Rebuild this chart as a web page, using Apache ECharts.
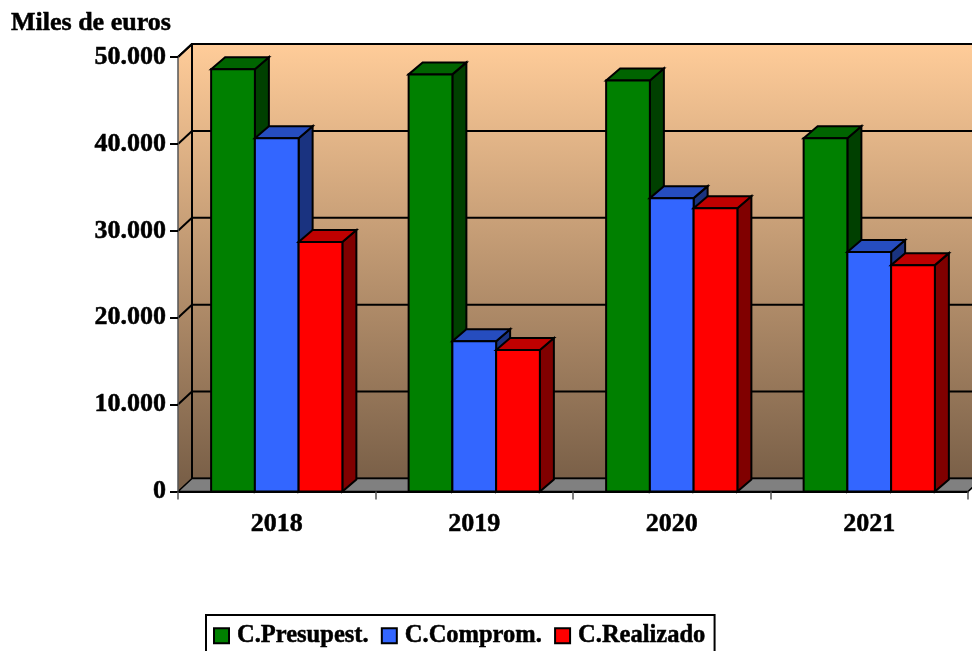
<!DOCTYPE html>
<html>
<head>
<meta charset="utf-8">
<style>html,body{margin:0;padding:0;background:#fff}#c{width:972px;height:651px}</style>
<script src="https://cdn.jsdelivr.net/npm/echarts@6/dist/echarts.min.js"></script>
</head>
<body>
<div id="c"></div>
<script>
var unitTitle = 'Miles de euros';
var categories = ['2018', '2019', '2020', '2021'];
var yTicks = [10000, 20000, 30000, 40000, 50000];
var seriesNames = ['C.Presupest.', 'C.Comprom.', 'C.Realizado'];
var presupuestado = [48600, 48000, 47300, 40660];
var comprometido = [40660, 17300, 33760, 27550];
var realizado = [28700, 16270, 32600, 26050];

var FONT = '"Liberation Serif","Times New Roman",serif';
var WALL = { dx: 14, dy: -13 };
var BAR = { dx: 14, dy: -12, ratio: 0.2215 };
var faces = [
  { front: '#008000', side: '#004000', top: '#006400' },
  { front: '#3366FF', side: '#1A3380', top: '#264DBF' },
  { front: '#FF0000', side: '#800000', top: '#BF0000' }
];
var edge = { stroke: '#000', lineWidth: 2, lineJoin: 'miter' };

function poly(points, fill, stroke) {
  return { type: 'polygon', shape: { points: points },
    style: Object.assign({ fill: fill }, stroke || edge) };
}

function renderWalls(params) {
  var g = params.coordSys;
  var top = g.y, bot = g.y + g.height, l = g.x, r = g.x + g.width;
  var grad = new echarts.graphic.LinearGradient(0, top + WALL.dy, 0, bot + WALL.dy, [
    { offset: 0, color: '#FFCC99' }, { offset: 1, color: '#7A6048' }
  ], true);
  var thin = { stroke: '#000', lineWidth: 2 };
  return { type: 'group', children: [
    poly([[l + WALL.dx, top + WALL.dy], [r + WALL.dx, top + WALL.dy], [r + WALL.dx, bot + WALL.dy], [l + WALL.dx, bot + WALL.dy]], grad, thin),
    poly([[l, top], [l + WALL.dx, top + WALL.dy], [l + WALL.dx, bot + WALL.dy], [l, bot]], grad, { stroke: '#000', lineWidth: 0 }),
    { type: 'line', shape: { x1: l + WALL.dx, y1: top + WALL.dy, x2: l + WALL.dx, y2: bot + WALL.dy }, style: thin },
    { type: 'line', shape: { x1: l, y1: top, x2: l + WALL.dx, y2: top + WALL.dy }, style: thin },
    poly([[l, bot], [l + WALL.dx, bot + WALL.dy], [r + WALL.dx, bot + WALL.dy], [r, bot]], '#808080', { stroke: '#000', lineWidth: 1.6 })
  ] };
}

function renderGrid(params, api) {
  var g = params.coordSys;
  var y = api.coord([api.value(0), api.value(1)])[1];
  var l = g.x, r = g.x + g.width;
  var s = { stroke: '#000', lineWidth: 2 };
  return { type: 'group', children: [
    { type: 'line', shape: { x1: l, y1: y, x2: l + WALL.dx, y2: y + WALL.dy }, style: s },
    { type: 'line', shape: { x1: l + WALL.dx, y1: y + WALL.dy, x2: r + WALL.dx, y2: y + WALL.dy }, style: s }
  ] };
}

function barRenderer(idx) {
  return function (params, api) {
    var f = faces[idx];
    var top = api.coord([api.value(0), api.value(1)]);
    var base = api.coord([api.value(0), 0]);
    var band = api.size([1, 0])[0];
    var w = band * BAR.ratio;
    var x0 = top[0] - 1.5 * w + idx * w, x1 = x0 + w;
    var yt = top[1], yb = base[1], dx = BAR.dx, dy = BAR.dy;
    return { type: 'group', children: [
      poly([[x1, yt], [x1 + dx, yt + dy], [x1 + dx, yb + dy], [x1, yb]], f.side),
      poly([[x0, yt], [x0 + dx, yt + dy], [x1 + dx, yt + dy], [x1, yt]], f.top),
      poly([[x0, yt], [x1, yt], [x1, yb], [x0, yb]], f.front)
    ] };
  };
}

function barSeries(name, values, idx) {
  return {
    name: name, type: 'custom', renderItem: barRenderer(idx), clip: false,
    itemStyle: { color: faces[idx].front, borderColor: '#000', borderWidth: 2 },
    encode: { x: 0, y: 1 },
    data: values.map(function (v, i) { return [categories[i], v]; })
  };
}

var chart = echarts.init(document.getElementById('c'), null, { renderer: 'canvas' });
chart.setOption({
  animation: false,
  backgroundColor: '#fff',
  title: { text: unitTitle, left: 11, top: 10, padding: 0,
    textStyle: { fontFamily: FONT, fontSize: 26, fontWeight: 'bold', color: '#000', textBorderColor: '#000', textBorderWidth: 0.5 } },
  grid: { left: 178, top: 57, width: 790, height: 434.5, containLabel: false },
  xAxis: {
    type: 'category', data: categories, boundaryGap: true, z: 10,
    axisLine: { lineStyle: { color: '#000', width: 2 } },
    axisTick: { show: true, length: 8, lineStyle: { color: '#555', width: 1.5 } },
    axisLabel: { margin: 20, fontFamily: FONT, fontSize: 26, fontWeight: 'bold', color: '#000', textBorderColor: '#000', textBorderWidth: 0.5 }
  },
  yAxis: {
    type: 'value', min: 0, max: 50000, interval: 10000, z: 10,
    axisLine: { show: true, lineStyle: { color: '#555', width: 1.5 } },
    axisTick: { show: true, length: 8, lineStyle: { color: '#000', width: 2 } },
    splitLine: { show: false },
    axisLabel: { margin: 12, padding: [6, 0, 0, 0], fontFamily: FONT, fontSize: 26, fontWeight: 'bold', color: '#000', textBorderColor: '#000', textBorderWidth: 0.5,
      formatter: function (v) { return String(v).replace(/\B(?=(\d{3})+$)/g, '.'); } }
  },
  legend: {
    data: seriesNames, orient: 'horizontal', left: 206, top: 615,
    icon: 'rect', itemWidth: 15, itemHeight: 15, itemGap: 12, selectedMode: false,
    padding: [8, 9, 12, 7], borderColor: '#000', borderWidth: 2, backgroundColor: '#fff',
    textStyle: { fontFamily: FONT, fontSize: 24.5, fontWeight: 'bold', color: '#000', padding: [0, 0, 0, 3], textBorderColor: '#000', textBorderWidth: 0.5 }
  },
  series: [
    { name: 'walls', type: 'custom', renderItem: renderWalls, data: [[categories[0], 0]], encode: { x: 0, y: 1 }, clip: false, silent: true, z: 1 },
    { name: 'grid', type: 'custom', renderItem: renderGrid, data: yTicks.map(function (v) { return [categories[0], v]; }), encode: { x: 0, y: 1 }, clip: false, silent: true, z: 1 },
    Object.assign(barSeries(seriesNames[0], presupuestado, 0), { z: 2 }),
    Object.assign(barSeries(seriesNames[1], comprometido, 1), { z: 3 }),
    Object.assign(barSeries(seriesNames[2], realizado, 2), { z: 4 })
  ]
});
</script>
</body>
</html>
